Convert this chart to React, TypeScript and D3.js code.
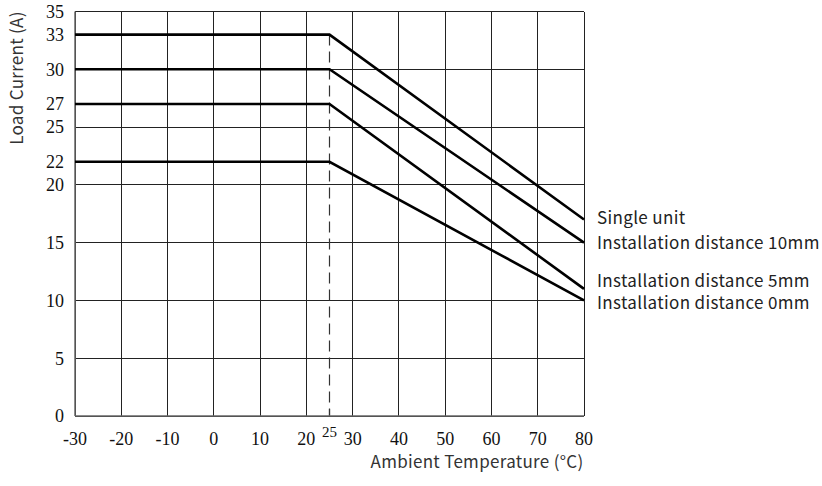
import * as d3 from "d3";

const temperatureTicks = [-30, -20, -10, 0, 10, 20, 30, 40, 50, 60, 70, 80];
const currentTicks = [0, 5, 10, 15, 20, 22, 25, 27, 30, 33, 35];
const gridCurrents = [0, 5, 10, 15, 20, 25, 30, 35];
const seriesNames = [
  "Single unit",
  "Installation distance 10mm",
  "Installation distance 5mm",
  "Installation distance 0mm",
];
const ratedCurrents = [33, 30, 27, 22];
const currentsAt80 = [17, 15, 11, 10];
const labelCurrents = [17.1, 15, 11.65, 9.75];
const kneeTemperature = 25;

const width = 822;
const height = 486;
const sansFont = "'Noto Sans CJK SC', 'Noto Sans', sans-serif";
const serifFont = "'Liberation Serif', 'Times New Roman', serif";

export default function App() {
  const x = d3.scaleLinear().domain([-30, 80]).range([75, 584]);
  const y = d3.scaleLinear().domain([0, 35]).range([416, 11.5]);

  const line = d3
    .line<[number, number]>()
    .x((d) => x(d[0]))
    .y((d) => y(d[1]));

  const series = seriesNames.map((name, i) => ({
    name,
    points: [
      [-30, ratedCurrents[i]],
      [kneeTemperature, ratedCurrents[i]],
      [80, currentsAt80[i]],
    ] as [number, number][],
    labelY: labelCurrents[i],
  }));

  return (
    <svg
      width={width}
      height={height}
      style={{ position: "absolute", left: 0, top: 0, background: "#fff" }}
    >
      {/* grid */}
      <g stroke="#222" strokeWidth={1} shapeRendering="crispEdges">
        {gridCurrents.map((c) => (
          <line key={`h${c}`} x1={x(-30)} x2={x(80)} y1={y(c)} y2={y(c)} />
        ))}
        {temperatureTicks.map((t) => (
          <line key={`v${t}`} x1={x(t)} x2={x(t)} y1={y(0)} y2={y(35)} />
        ))}
      </g>

      {/* 25 degree marker */}
      <line
        x1={x(kneeTemperature)}
        x2={x(kneeTemperature)}
        y1={y(d3.max(ratedCurrents)!)}
        y2={y(0)}
        stroke="#333"
        strokeWidth={1.2}
        strokeDasharray="11,6"
      />
      <line
        x1={x(kneeTemperature)}
        x2={x(kneeTemperature)}
        y1={y(0) - 7}
        y2={y(0)}
        stroke="#333"
        strokeWidth={1.2}
      />

      {/* axes */}
      <g stroke="#666" strokeWidth={1.5}>
        <line x1={x(-30)} x2={x(-30)} y1={y(0)} y2={y(35)} />
        <line x1={x(-30)} x2={x(80)} y1={y(0)} y2={y(0)} />
      </g>

      {/* derating curves */}
      {series.map((s) => (
        <path
          key={s.name}
          d={line(s.points) ?? ""}
          fill="none"
          stroke="#000"
          strokeWidth={2.6}
        />
      ))}

      {/* y tick labels */}
      <g fontFamily={serifFont} fontSize={18} fill="#111" textAnchor="end">
        {currentTicks.map((c) => (
          <text key={c} x={64} y={y(c)} dy="0.35em">
            {c}
          </text>
        ))}
      </g>

      {/* x tick labels */}
      <g fontFamily={serifFont} fontSize={18} fill="#111" textAnchor="middle">
        {temperatureTicks.map((t) => (
          <text key={t} x={x(t)} y={445}>
            {t}
          </text>
        ))}
        <text x={x(kneeTemperature)} y={437} fontSize={15}>
          {kneeTemperature}
        </text>
      </g>

      {/* series labels */}
      <g fontFamily={sansFont} fontSize={17} fill="#222" letterSpacing={0.35}>
        {series.map((s) => (
          <text key={s.name} x={597} y={y(s.labelY)} dy="0.35em">
            {s.name}
          </text>
        ))}
      </g>

      {/* axis titles */}
      <text
        x={477}
        y={468}
        textAnchor="middle"
        fontFamily={sansFont}
        fontSize={17}
        fill="#333"
        letterSpacing={0.3}
      >
        Ambient Temperature (°C)
      </text>
      <text
        transform="translate(23,78) rotate(-90)"
        textAnchor="middle"
        fontFamily={sansFont}
        fontSize={17}
        fill="#333"
        letterSpacing={0.3}
      >
        Load Current (A)
      </text>
    </svg>
  );
}
